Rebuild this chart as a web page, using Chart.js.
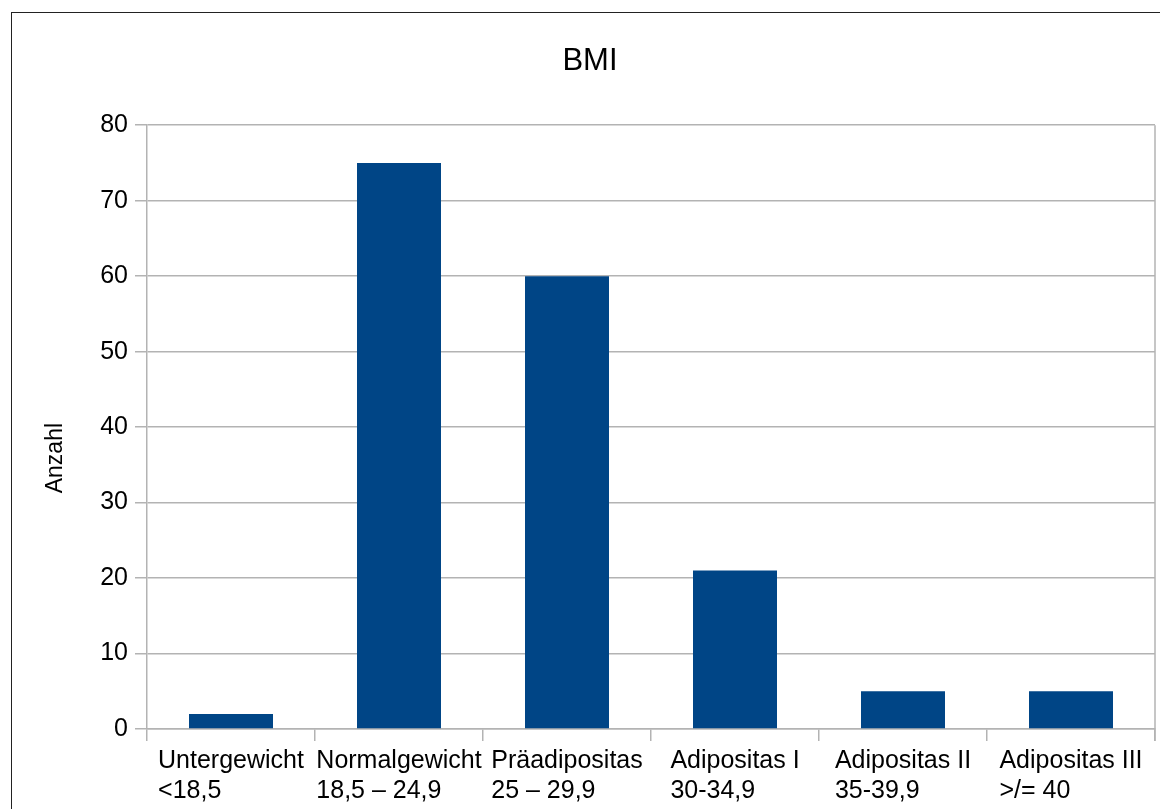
<!DOCTYPE html>
<html>
<head>
<meta charset="utf-8">
<script src="https://cdn.jsdelivr.net/npm/chart.js@4/dist/chart.umd.min.js"></script>
<style>
  html, body { margin: 0; padding: 0; background: #fff; }
  canvas { display: block; }
</style>
</head>
<body>
<canvas id="bmi" width="1160" height="809"></canvas>
<script>
// BMI classes (two-line labels) and the number of people in each class
const categories = [
  ['Untergewicht', '<18,5'],
  ['Normalgewicht', '18,5 \u2013 24,9'],
  ['Präadipositas', '25 \u2013 29,9'],
  ['Adipositas I', '30-34,9'],
  ['Adipositas II', '35-39,9'],
  ['Adipositas III', '>/= 40']
];
const counts = [2, 75, 60, 21, 5, 5];
const yTicks = { min: 0, max: 80, step: 10 };
const yTitle = 'Anzahl';

const FONT = '"Liberation Sans", Arial, sans-serif';
const GRID = '#b3b3b3';
const BAR = '#004586';

// White page with a thin frame around the chart
const framePlugin = {
  id: 'frame',
  beforeDraw(chart) {
    const ctx = chart.ctx;
    ctx.save();
    ctx.fillStyle = '#fff';
    ctx.fillRect(0, 0, chart.width, chart.height);
    ctx.strokeStyle = '#222';
    ctx.lineWidth = 1;
    ctx.strokeRect(11.5, 12.5, chart.width + 20, chart.height + 20);
    ctx.restore();
  },
  afterDraw(chart) {
    // right edge of the plot area, extended down like the tick marks
    const a = chart.chartArea;
    const ctx = chart.ctx;
    ctx.save();
    ctx.strokeStyle = GRID;
    ctx.lineWidth = 1.5;
    ctx.beginPath();
    ctx.moveTo(a.right, a.top);
    ctx.lineTo(a.right, a.bottom + 12);
    ctx.stroke();
    ctx.restore();
  }
};

// Category labels: each block centred on its category, lines left-aligned inside;
// plus the rotated value-axis title, sitting a little below the plot's middle
const labelPlugin = {
  id: 'labels',
  afterDraw(chart) {
    const x = chart.scales.x;
    const a = chart.chartArea;
    const ctx = chart.ctx;
    ctx.save();
    ctx.font = '25px ' + FONT;
    ctx.fillStyle = '#000';
    ctx.textAlign = 'left';
    ctx.textBaseline = 'middle';
    const lineH = 30;
    const top = a.bottom + 17;
    categories.forEach((lines, i) => {
      const cx = x.getPixelForValue(i);
      const w = Math.max(...lines.map(l => ctx.measureText(l).width));
      const left = cx - w / 2;
      lines.forEach((l, j) => ctx.fillText(l, left, top + lineH / 2 + j * lineH));
    });

    ctx.font = '23px ' + FONT;
    ctx.textAlign = 'center';
    ctx.translate(56, (a.top + a.bottom) / 2 + 31);
    ctx.rotate(-Math.PI / 2);
    ctx.fillText(yTitle, 0, 0);
    ctx.restore();
  }
};

new Chart(document.getElementById('bmi'), {
  type: 'bar',
  data: {
    labels: categories,
    datasets: [{
      label: yTitle,
      data: counts,
      backgroundColor: BAR,
      borderWidth: 0,
      barPercentage: 0.5,
      categoryPercentage: 1.0
    }]
  },
  options: {
    responsive: false,
    animation: false,
    layout: { padding: { top: 0, right: 5, bottom: 0, left: 25 } },
    plugins: {
      legend: { display: false },
      tooltip: { enabled: false },
      title: {
        display: true,
        text: 'BMI',
        color: '#000',
        font: { family: FONT, size: 31, weight: 'normal' },
        padding: { top: 43, bottom: 45 }
      }
    },
    scales: {
      x: {
        offset: true,
        grid: {
          offset: true,
          drawOnChartArea: false,
          drawTicks: true,
          tickLength: 12,
          color: GRID,
          lineWidth: 1.5
        },
        border: { display: true, color: GRID, width: 1.5 },
        ticks: { display: false },
        afterFit(scale) { scale.height = 80; }
      },
      y: {
        min: yTicks.min,
        max: yTicks.max,
        grid: {
          color: GRID,
          lineWidth: 1.5,
          drawTicks: true,
          tickLength: 12
        },
        border: { display: true, color: GRID, width: 1.5 },
        ticks: {
          stepSize: yTicks.step,
          color: '#000',
          padding: 7,
          font: { family: FONT, size: 25 }
        },
        afterFit(scale) { scale.width = 122; }
      }
    }
  },
  plugins: [framePlugin, labelPlugin]
});
</script>
</body>
</html>
